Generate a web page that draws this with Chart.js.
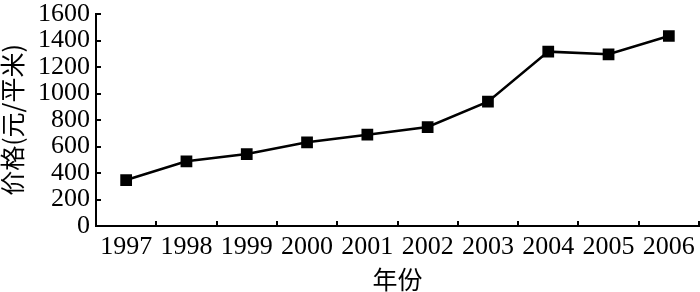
<!DOCTYPE html>
<html>
<head>
<meta charset="utf-8">
<script src="https://cdn.jsdelivr.net/npm/chart.js@4/dist/chart.umd.min.js"></script>
<style>
  html, body { margin: 0; padding: 0; background: #fff; }
  #wrap { width: 700px; height: 292px; position: relative; }
</style>
</head>
<body>
<div id="wrap"><canvas id="chart"></canvas></div>
<script>
const years = ['1997', '1998', '1999', '2000', '2001', '2002', '2003', '2004', '2005', '2006'];
const prices = [347, 488, 543, 632, 689, 747, 938, 1316, 1296, 1434];
const yTicks = [0, 200, 400, 600, 800, 1000, 1200, 1400, 1600];

const serif = '"Liberation Serif", "Times New Roman", serif';
const cjk = '"Noto Sans CJK SC", serif';

new Chart(document.getElementById('chart'), {
    type: 'line',
    data: {
        labels: years,
        datasets: [{
            data: prices,
            borderColor: '#000',
            borderWidth: 2.5,
            backgroundColor: '#000',
            pointStyle: 'rect',
            pointRadius: 8.3,
            pointHoverRadius: 8.3,
            pointBorderWidth: 0,
            tension: 0
        }]
    },
    options: {
        responsive: true,
        maintainAspectRatio: false,
        animation: false,
        events: [],
        layout: { autoPadding: false, padding: { top: 14, right: 1, left: 0, bottom: 0 } },
        plugins: { legend: { display: false }, tooltip: { enabled: false } },
        scales: {
            x: {
                type: 'category',
                offset: true,
                grid: { offset: true, drawOnChartArea: false, tickLength: -5, color: '#000', lineWidth: 2 },
                border: { color: '#000', width: 2 },
                ticks: { color: '#000', font: { family: serif, size: 26 }, padding: 11, maxRotation: 0, autoSkip: false },
                title: { display: true, text: '年份', color: '#000', font: { family: cjk, size: 25, lineHeight: 1 }, padding: 0 },
                afterFit: s => { s.height = 66; s.paddingLeft = 0; s.paddingRight = 0; }
            },
            y: {
                min: 0,
                max: 1600,
                afterBuildTicks: s => { s.ticks = yTicks.map(v => ({ value: v })); },
                grid: { drawOnChartArea: false, tickLength: -5, color: '#000', lineWidth: 2 },
                border: { color: '#000', width: 2 },
                ticks: { color: '#000', font: { family: serif, size: 26 }, padding: 11, autoSkip: false, callback: v => String(v) },
                title: { display: true, text: '价格(元/平米)', color: '#000', font: { family: cjk, size: 25, lineHeight: 1 }, padding: 0 },
                afterFit: s => { s.width = 96; s.paddingTop = 0; s.paddingBottom = 0; }
            }
        }
    }
});
</script>
</body>
</html>
